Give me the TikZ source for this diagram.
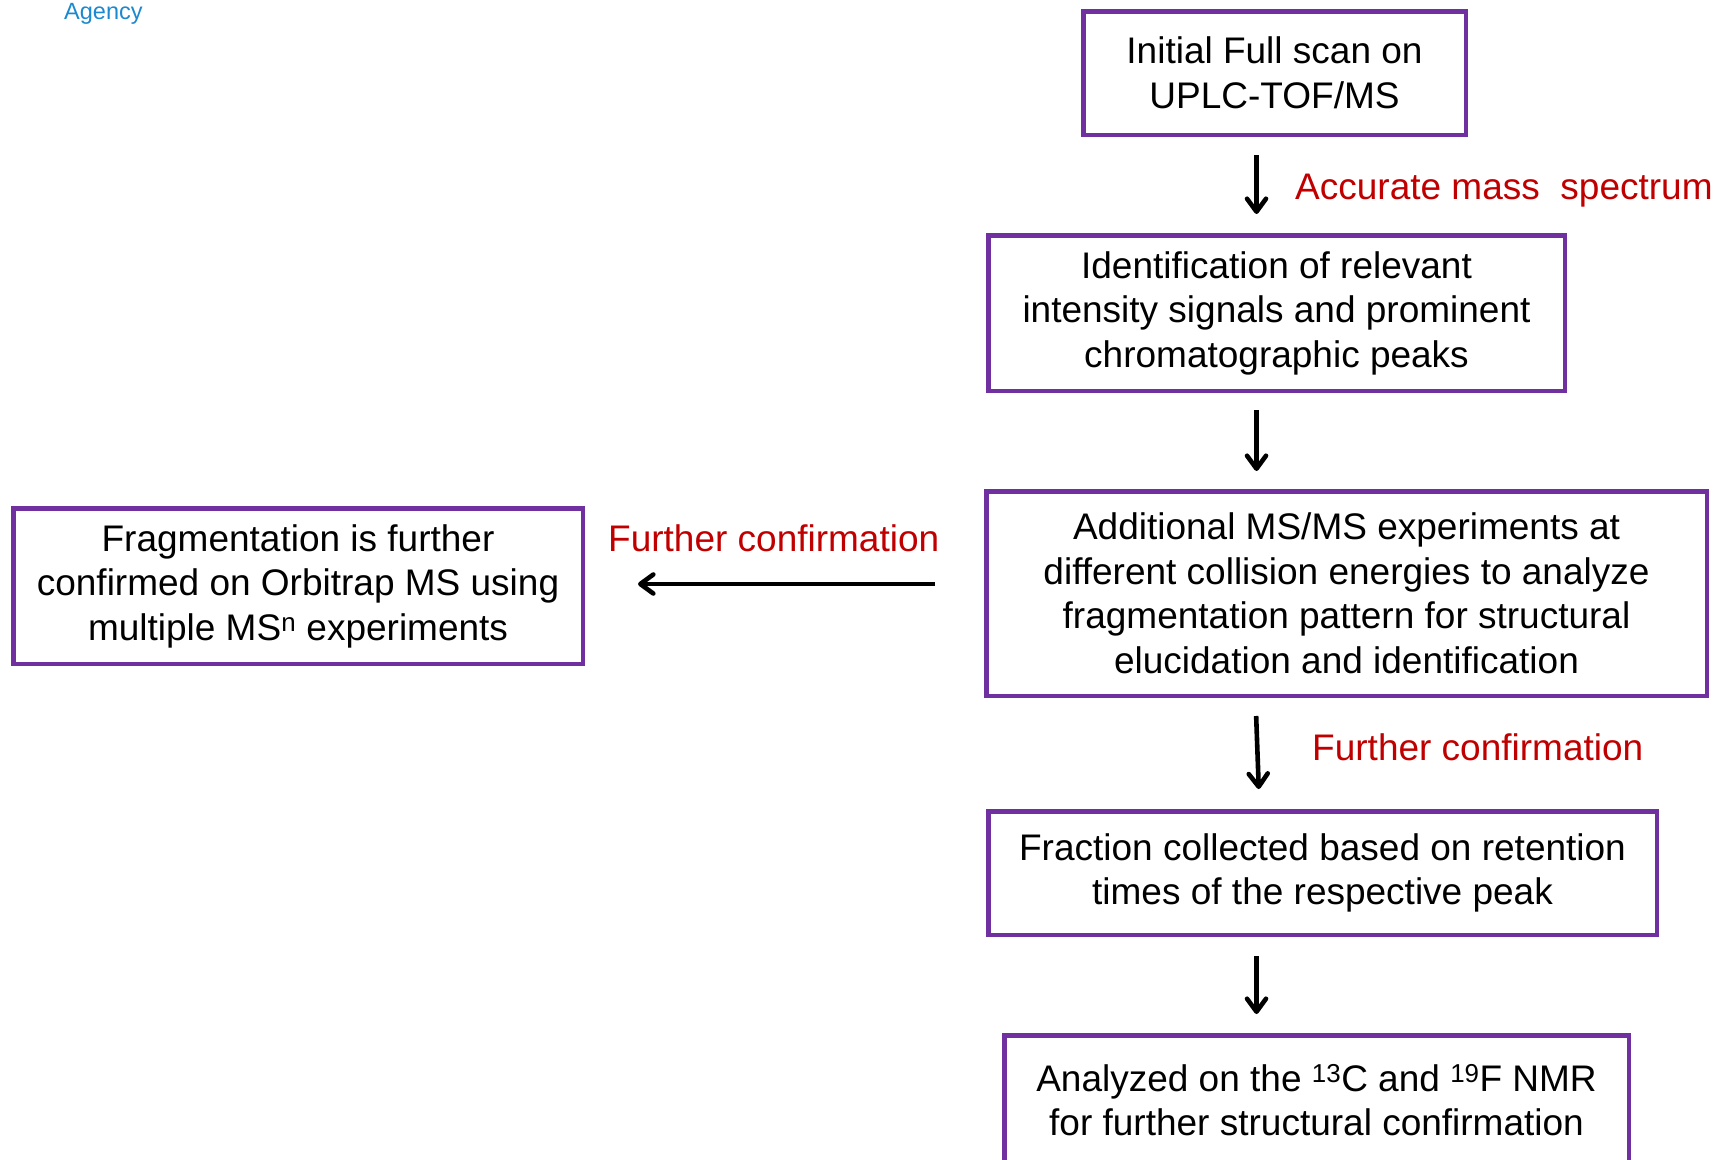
\documentclass[tikz,border=0pt]{standalone}
\usepackage{fontspec}
\setmainfont{Liberation Sans}
\usetikzlibrary{arrows.meta,calc}
\definecolor{boxpurple}{RGB}{112,48,160}
\definecolor{lblred}{RGB}{192,0,0}
\definecolor{agencyblue}{RGB}{27,137,207}
\begin{document}
\begin{tikzpicture}[x=1pt,y=-1pt,
  flowbox/.style={draw=boxpurple, line width=4.5pt, rectangle, align=center, inner sep=0pt,
    font=\fontsize{37}{44.5}\selectfont},
  flowarrow/.style={line width=4.6pt, -{Straight Barb[length=13pt,width=19pt,round]}},
  redlabel/.style={text=lblred, font=\fontsize{37}{44.5}\selectfont, inner sep=0pt}]
\useasboundingbox (0,0) rectangle (1731,1159);
\clip (0,0) rectangle (1731,1159);

\node[anchor=base west, text=agencyblue, font=\fontsize{23.5}{28}\selectfont, inner sep=0pt] (agency) at (64,19) {Agency};

\node[flowbox, minimum width=382.5pt, minimum height=123.5pt] (b1) at (1274.5,73)
  {Initial Full scan on\\UPLC-TOF/MS};
\node[flowbox, minimum width=576.5pt, minimum height=155.5pt] (b2) at (1276.5,313)
  {Identification of relevant\\intensity signals and prominent\\chromatographic peaks};
\node[flowbox, minimum width=720.5pt, minimum height=204.5pt] (b3) at (1346.5,593.5)
  {Additional MS/MS experiments at\\different collision energies to analyze\\fragmentation pattern for structural\\elucidation and identification};
\node[flowbox, minimum width=569.5pt, minimum height=155.5pt] (b4) at (298,586)
  {Fragmentation is further\\confirmed on Orbitrap MS using\\multiple MS\textsuperscript{n} experiments};
\node[flowbox, minimum width=668.5pt, minimum height=123.5pt] (b5) at (1322.5,873)
  {Fraction collected based on retention\\times of the respective peak};
\node[flowbox, minimum width=624.5pt, minimum height=129.5pt] (b6) at (1316.5,1100)
  {Analyzed on the \textsuperscript{13}C and \textsuperscript{19}F NMR\\for further structural confirmation};

\coordinate (ax) at (1256.5,0);
\coordinate (axa) at (1255.5,0);
\coordinate (axb) at (1259.5,0);
\coordinate (ay) at (0,584);

\draw[flowarrow, shorten <=18pt, shorten >=19pt] (b1.south -| ax) -- (b2.north -| ax);
\draw[flowarrow, shorten <=17pt, shorten >=18pt] (b2.south -| ax) -- (b3.north -| ax);
\draw[flowarrow, shorten <=49pt, shorten >=53pt] (b3.west |- ay) -- (b4.east |- ay);
\draw[flowarrow, shorten <=18pt, shorten >=20pt] (b3.south -| axa) -- (b5.north -| axb);
\draw[flowarrow, shorten <=19pt, shorten >=19pt] (b5.south -| ax) -- (b6.north -| ax);

\node[redlabel, anchor=base west] (l1) at (1295,199) {Accurate mass\ \ spectrum};
\node[redlabel, anchor=base west] (l2) at (608,551) {Further confirmation};
\node[redlabel, anchor=base west] (l3) at (1312,760) {Further confirmation};
\end{tikzpicture}
\end{document}
